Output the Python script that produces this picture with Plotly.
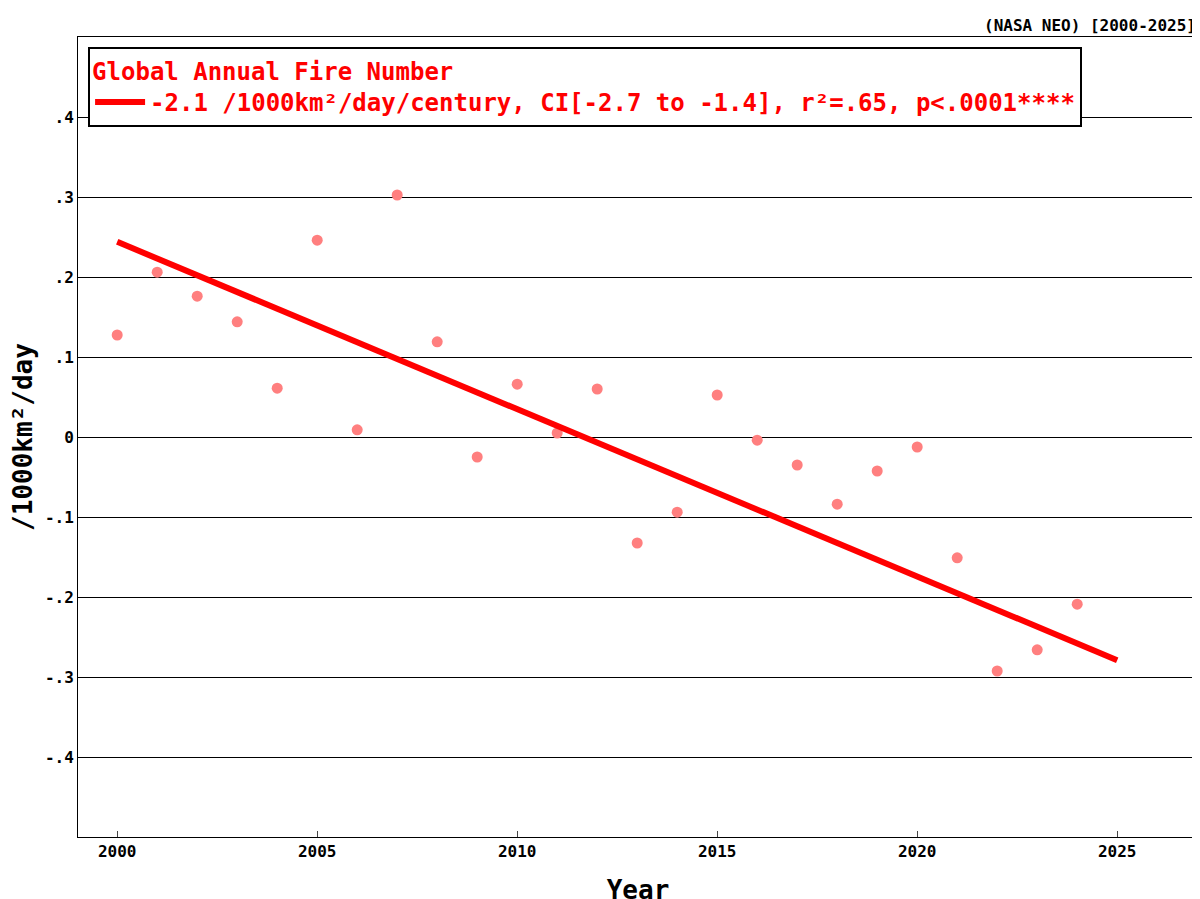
import plotly.graph_objects as go

years = list(range(2000, 2025))
values = [0.1275, 0.206, 0.176, 0.144, 0.061, 0.246, 0.009, 0.3025, 0.119, -0.025,
          0.066, 0.005, 0.060, -0.1325, -0.094, 0.0525, -0.004, -0.035, -0.084, -0.0425,
          -0.0125, -0.151, -0.2925, -0.266, -0.209]
trend_x = [2000, 2025]
trend_y = [0.244, -0.279]
ytick_vals = [-0.4, -0.3, -0.2, -0.1, 0, 0.1, 0.2, 0.3, 0.4]
ytick_text = ["<b>-.4</b>", "<b>-.3</b>", "<b>-.2</b>", "<b>-.1</b>", "<b>0</b>",
              "<b>.1</b>", "<b>.2</b>", "<b>.3</b>", "<b>.4</b>"]
xtick_vals = [2000, 2005, 2010, 2015, 2020, 2025]
xtick_text = ["<b>%d</b>" % v for v in xtick_vals]

font = "DejaVu Sans Mono"
fig = go.Figure()
fig.add_trace(go.Scatter(x=years, y=values, mode="markers",
                         marker=dict(color="#ff7f7f", size=11), showlegend=False))
fig.add_trace(go.Scatter(x=trend_x, y=trend_y, mode="lines",
                         line=dict(color="red", width=6),
                         name="<b>-2.1 /1000km²/day/century, CI[-2.7 to -1.4], r²=.65, p<.0001****</b>"))
fig.update_layout(
    width=1200, height=899, plot_bgcolor="white", paper_bgcolor="white",
    margin=dict(l=70, r=10, t=29, b=70),
    font=dict(family=font, color="black"),
    legend=dict(x=0.009, y=0.988, xanchor="left", yanchor="top",
                bordercolor="black", borderwidth=2, bgcolor="white",
                title=dict(text="<b>Global Annual Fire Number</b>", font=dict(size=24, color="red", family=font)),
                font=dict(size=24, color="red", family=font), itemwidth=50,
                tracegroupgap=0),
    xaxis=dict(range=[1999.02, 2027.02], tickvals=xtick_vals, ticktext=xtick_text, showgrid=False,
               ticks="inside", ticklen=6, showline=True, linecolor="black", mirror=True,
               tickfont=dict(size=16, family=font), zeroline=False, automargin=False,
               title=dict(text="<b>Year</b>", font=dict(size=26, family=font), standoff=20)),
    yaxis=dict(range=[-0.5, 0.5], tickvals=ytick_vals, ticktext=ytick_text,
               showgrid=True, gridcolor="black", gridwidth=1,
               ticks="", showline=True, linecolor="black", mirror=True,
               tickfont=dict(size=16, family=font), zeroline=False, automargin=False,
               title=dict(text="<b>/1000km²/day</b>", font=dict(size=26, family=font), standoff=18)),
    annotations=[dict(text="<b>(NASA NEO) [2000-2025]</b>", xref="paper", yref="paper",
                      x=1, y=1, xanchor="right", yanchor="bottom", showarrow=False,
                      font=dict(size=16, family=font))],
)
fig.write_html("out.html")
